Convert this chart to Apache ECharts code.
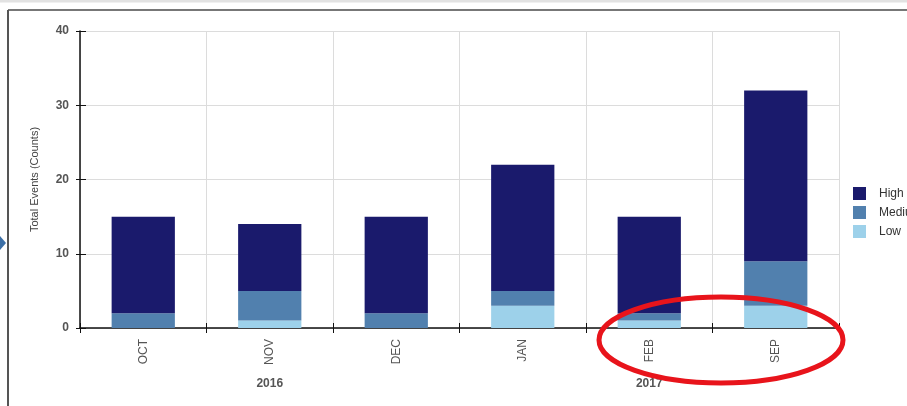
<!DOCTYPE html>
<html>
<head>
<meta charset="utf-8">
<script src="https://cdn.jsdelivr.net/npm/echarts@6/dist/echarts.min.js"></script>
<style>
  html, body { margin: 0; padding: 0; background: #fff; }
  #chart { width: 907px; height: 406px; }
</style>
</head>
<body>
<div id="chart"></div>
<script>
// Monthly event counts by severity
const months = ['OCT', 'NOV', 'DEC', 'JAN', 'FEB', 'SEP'];
const years = ['2016', '2017'];
const yTicks = [0, 10, 20, 30, 40];
const lowCounts = [0, 1, 0, 3, 1, 3];
const mediumCounts = [2, 4, 2, 2, 1, 6];
const highCounts = [13, 9, 13, 17, 13, 23];

const font = 'Liberation Sans, Arial, sans-serif';
const chart = echarts.init(document.getElementById('chart'));

const yBase = {
  type: 'value',
  min: yTicks[0],
  max: yTicks[yTicks.length - 1],
  interval: yTicks[1] - yTicks[0],
  position: 'left'
};

chart.setOption({
  animation: false,
  backgroundColor: '#fff',
  textStyle: { fontFamily: font },
  grid: { left: 80, right: 68, top: 31, bottom: 78 },
  legend: {
    orient: 'vertical',
    left: 848,
    top: 182,
    icon: 'rect',
    itemWidth: 13,
    itemHeight: 13,
    itemGap: 6,
    data: ['High', 'Medium', 'Low'],
    textStyle: { fontFamily: font, fontSize: 12, color: '#333', padding: [0, 0, 0, 8] }
  },
  xAxis: [
    {
      type: 'category',
      data: months,
      position: 'bottom',
      axisLine: { show: true, lineStyle: { color: '#111', width: 1.5 } },
      axisTick: { show: true, length: 5, lineStyle: { color: '#111' } },
      axisLabel: { rotate: 90, margin: 11, fontSize: 12, color: '#555', fontFamily: font },
      splitLine: { show: true, lineStyle: { color: '#dcdcdc' } }
    },
    {
      type: 'category',
      data: months,
      position: 'bottom',
      axisLine: { show: false },
      axisTick: { show: true, inside: true, length: 5, lineStyle: { color: '#111' } },
      axisLabel: { show: false },
      splitLine: { show: false }
    },
    {
      type: 'category',
      data: years,
      position: 'bottom',
      axisLine: { show: false },
      axisTick: { show: false },
      axisLabel: { margin: 50, fontSize: 12, fontWeight: 'bold', color: '#555', fontFamily: font },
      splitLine: { show: false }
    }
  ],
  yAxis: [
    Object.assign({}, yBase, {
      name: 'Total Events (Counts)',
      nameLocation: 'middle',
      nameGap: 40,
      nameRotate: 90,
      nameTextStyle: { fontSize: 11, color: '#444', fontFamily: font },
      axisLine: { show: true, lineStyle: { color: '#111', width: 1.5 } },
      axisTick: { show: true, length: 4, lineStyle: { color: '#111' } },
      axisLabel: { margin: 11, fontSize: 12, fontWeight: 'bold', color: '#555', fontFamily: font },
      splitLine: { show: true, lineStyle: { color: '#dcdcdc' } }
    }),
    Object.assign({}, yBase, {
      axisLine: { show: false },
      axisTick: { show: true, inside: true, length: 6, lineStyle: { color: '#111' } },
      axisLabel: { show: false },
      splitLine: { show: false }
    })
  ],
  series: [
    {
      name: 'Low', type: 'bar', stack: 'events', barWidth: '50%',
      itemStyle: { color: '#9dd1ea' }, data: lowCounts
    },
    {
      name: 'Medium', type: 'bar', stack: 'events', barWidth: '50%',
      itemStyle: { color: '#5180ae' }, data: mediumCounts
    },
    {
      name: 'High', type: 'bar', stack: 'events', barWidth: '50%',
      itemStyle: { color: '#1a1a6c' }, data: highCounts
    }
  ],
  graphic: [
    { type: 'line', shape: { x1: 0, y1: 1, x2: 907, y2: 1 }, style: { stroke: '#e2e2e2', lineWidth: 3 } },
    { type: 'line', shape: { x1: 8, y1: 10, x2: 910, y2: 10 }, style: { stroke: '#777', lineWidth: 2 } },
    { type: 'line', shape: { x1: 8, y1: 10, x2: 8, y2: 406 }, style: { stroke: '#555', lineWidth: 2 } },
    { type: 'polygon', shape: { points: [[0, 236], [6, 243], [0, 250]] }, style: { fill: '#3c6fa6' } },
    {
      type: 'ellipse', z: 100,
      shape: { cx: 721, cy: 340, rx: 122, ry: 43 },
      style: { fill: 'none', stroke: '#e8141b', lineWidth: 5 }
    }
  ]
});
</script>
</body>
</html>
